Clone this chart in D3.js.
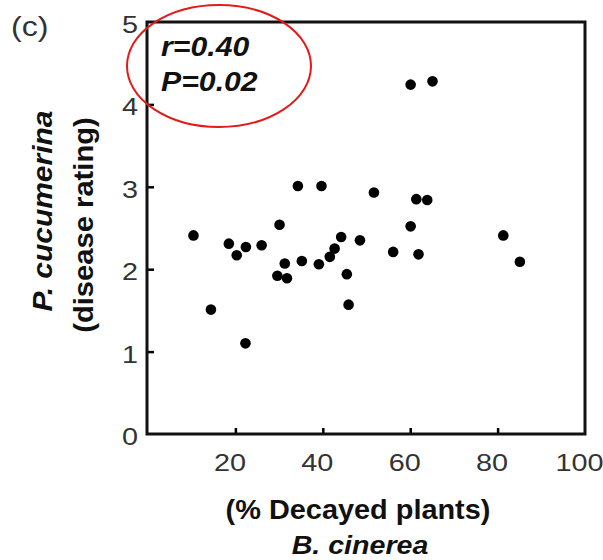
<!DOCTYPE html>
<html><head><meta charset="utf-8">
<script src="https://cdn.jsdelivr.net/npm/d3@7"></script>
<style>body{margin:0;background:#fff}svg{display:block}</style>
</head><body>
<script>
const decayed = [10.4,18.5,20.3,22.4,26.0,30.1,14.4,22.3,29.6,31.8,31.3,35.2,39.1,41.6,42.7,44.2,45.5,45.9,48.5,56.1,60.1,61.9,60.1,65.1,61.4,63.9,81.3,85.1,34.3,39.7,51.7];
const rating  = [2.41,2.31,2.17,2.27,2.29,2.54,1.51,1.10,1.92,1.89,2.07,2.10,2.06,2.15,2.25,2.39,1.94,1.57,2.35,2.21,2.52,2.18,4.24,4.28,2.85,2.84,2.41,2.09,3.01,3.01,2.93];
const xTicks = [20,40,60,80,100];
const yTicks = [0,1,2,3,4,5];
const xTitle = "(% Decayed plants)";
const xSpecies = "B. cinerea";
const ySpecies = "P. cucumerina";
const yTitle = "(disease rating)";
const statLines = ["r=0.40","P=0.02"];
const panelLabel = "(c)";

const W=603,H=560;
const svg=d3.select("body").append("svg").attr("width",W).attr("height",H);
const L=148,R=585,T=22,B=434;
const x=d3.scaleLinear().domain([0,100]).range([L,R]);
const y=d3.scaleLinear().domain([0,5]).range([B,T]);
const font="'Liberation Sans', Arial, Helvetica, sans-serif";
const grey="#333";

// inner ticks
svg.append("g").attr("transform",`translate(0,${B})`)
  .call(d3.axisTop(x).tickValues(xTicks.filter(v=>v<100)).tickSize(6).tickFormat(""))
  .call(g=>{g.select(".domain").remove();g.selectAll("line").attr("stroke","#000").attr("stroke-width",2.5);});
svg.append("g").attr("transform",`translate(${L},0)`)
  .call(d3.axisRight(y).tickValues(yTicks.filter(v=>v>0&&v<5)).tickSize(6).tickFormat(""))
  .call(g=>{g.select(".domain").remove();g.selectAll("line").attr("stroke","#000").attr("stroke-width",2.5);});

// frame
svg.append("rect").attr("x",L-1).attr("y",T).attr("width",R-L+1).attr("height",B-T)
  .attr("fill","none").attr("stroke","#111").attr("stroke-width",3);

// tick labels
svg.append("g").selectAll("text").data(xTicks).join("text")
  .attr("transform",d=>`translate(${x(d)-5.5},471) scale(1.2,1)`).attr("text-anchor","middle")
  .attr("font-family",font).attr("font-size",24).attr("fill",grey)
  .text(d=>d);
svg.append("g").selectAll("text").data(yTicks).join("text")
  .attr("transform",d=>`translate(130,${y(d)+11}) scale(1.2,1)`).attr("text-anchor","middle")
  .attr("font-family",font).attr("font-size",24).attr("fill",grey)
  .text(d=>d);

// points
svg.append("g").selectAll("circle").data(decayed.map((d,i)=>[d,rating[i]])).join("circle")
  .attr("cx",d=>x(d[0])).attr("cy",d=>y(d[1])).attr("r",5.3).attr("fill","#000");

// axis titles
svg.append("text").attr("transform","translate(358,519) scale(1.07,1)").attr("text-anchor","middle")
  .attr("font-family",font).attr("font-weight","bold").attr("font-size",27).attr("fill","#111").text(xTitle);
svg.append("text").attr("transform","translate(360,554) scale(1.1,1)").attr("text-anchor","middle")
  .attr("font-family",font).attr("font-weight","bold").attr("font-style","italic").attr("font-size",26).attr("fill","#111").text(xSpecies);
svg.append("text").attr("transform","translate(52,211) rotate(-90) scale(1.11,1)").attr("text-anchor","middle")
  .attr("font-family",font).attr("font-weight","bold").attr("font-style","italic").attr("font-size",27).attr("fill","#111").text(ySpecies);
svg.append("text").attr("transform","translate(93,225) rotate(-90) scale(1.08,1)").attr("text-anchor","middle")
  .attr("font-family",font).attr("font-weight","bold").attr("font-size",27).attr("fill","#111").text(yTitle);

// panel label
svg.append("text").attr("transform","translate(11,36) scale(1.15,1)").attr("font-family",font).attr("font-size",28).attr("fill",grey).text(panelLabel);

// stats
svg.append("g").selectAll("text").data(statLines).join("text")
  .attr("transform",(d,i)=>`translate(161,${56+i*35}) scale(1.12,1)`)
  .attr("font-family",font).attr("font-weight","bold").attr("font-style","italic").attr("font-size",27).attr("fill","#111")
  .text(d=>d);

// red ellipse
svg.append("ellipse").attr("cx",219).attr("cy",66).attr("rx",92).attr("ry",61)
  .attr("fill","none").attr("stroke","#e21a1a").attr("stroke-width",2);
</script>
</body></html>
